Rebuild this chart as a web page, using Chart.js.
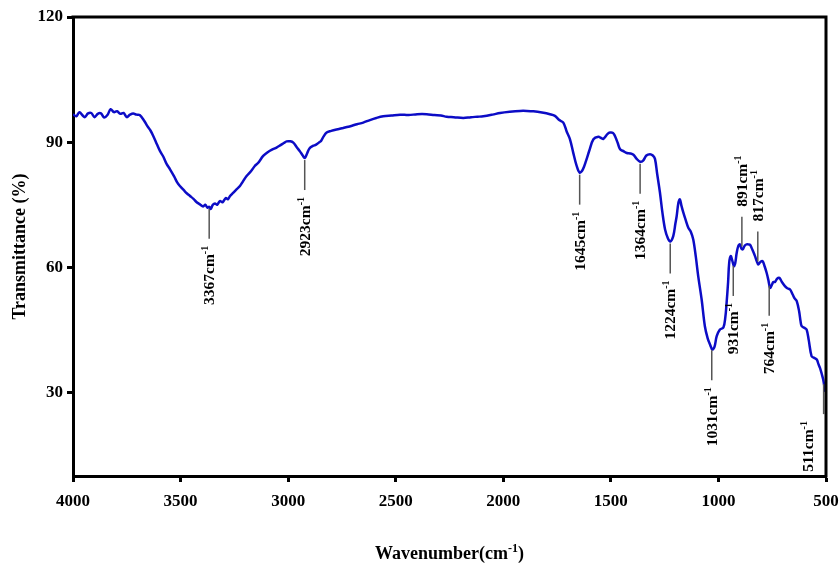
<!DOCTYPE html>
<html>
<head>
<meta charset="utf-8">
<title>FTIR spectrum</title>
<script src="https://cdn.jsdelivr.net/npm/chart.js@4.4.1/dist/chart.umd.min.js"></script>
<style>
    html, body { margin: 0; padding: 0; background: #fff; }
    canvas { display: block; }
</style>
</head>
<body>
<canvas id="ftirChart" width="840" height="567"></canvas>
<script>
// Spectrum (wavenumber in cm-1, transmittance in %)
const wavenumbers = [
    4000, 3985, 3970, 3955, 3945, 3930, 3915, 3900, 3885, 3870, 3855, 3840, 3825, 3810, 3795, 3780,
    3765, 3750, 3735, 3720, 3705, 3690, 3670, 3655, 3640, 3627, 3610, 3596, 3580, 3565, 3549, 3530,
    3515, 3503, 3485, 3470, 3456, 3440, 3425, 3410, 3395, 3385, 3375, 3367, 3360, 3350, 3340, 3330,
    3317, 3305, 3290, 3280, 3270, 3255, 3240, 3224, 3210, 3195, 3172, 3155, 3140, 3116, 3095, 3075,
    3054, 3035, 3020, 3007, 2990, 2976, 2960, 2945, 2932, 2923, 2912, 2901, 2885, 2870, 2855, 2847,
    2835, 2821, 2800, 2780, 2760, 2744, 2720, 2700, 2680, 2651, 2620, 2590, 2558, 2520, 2480, 2440,
    2400, 2356, 2320, 2290, 2263, 2230, 2186, 2150, 2120, 2093, 2050, 2015, 1970, 1922, 1890, 1860,
    1820, 1783, 1760, 1740, 1721, 1705, 1690, 1675, 1660, 1645, 1630, 1615, 1600, 1581, 1558, 1545,
    1535, 1515, 1504, 1490, 1481, 1468, 1457, 1440, 1426, 1410, 1395, 1380, 1364, 1350, 1335, 1318,
    1305, 1295, 1285, 1272, 1260, 1248, 1235, 1224, 1210, 1200, 1194, 1186, 1179, 1172, 1163, 1152,
    1140, 1128, 1117, 1105, 1094, 1078, 1063, 1050, 1039, 1028, 1018, 1008, 993, 977, 968, 962,
    955, 950, 943, 935, 928, 922, 915, 907, 900, 893, 887, 878, 869, 860, 853, 842,
    830, 822, 815, 805, 795, 785, 776, 768, 760, 750, 745, 737, 727, 717, 705, 691,
    680, 667, 655, 645, 636, 625, 618, 613, 600, 590, 580, 567, 555, 543, 535, 528,
    520, 513, 505, 502
];
const transmittance = [
    96.7, 96.2, 97.2, 96.4, 96.0, 96.9, 97.0, 96.0, 96.8, 96.9, 95.9, 96.5, 97.9, 97.2, 97.4, 96.8,
    97.0, 96.0, 96.6, 96.9, 96.6, 96.5, 95.2, 93.9, 92.8, 91.5, 89.5, 87.9, 86.5, 84.8, 83.5, 81.8,
    80.3, 79.5, 78.5, 77.7, 77.1, 76.4, 75.6, 75.1, 74.6, 75.0, 74.3, 74.5, 74.0, 75.0, 75.3, 75.0,
    75.9, 75.6, 76.6, 76.3, 77.1, 77.9, 78.7, 79.5, 80.6, 81.8, 83.1, 84.3, 85.0, 86.7, 87.6, 88.2,
    88.7, 89.3, 89.8, 90.2, 90.2, 89.9, 88.8, 87.8, 86.8, 86.2, 87.3, 88.5, 89.1, 89.4, 90.0, 90.3,
    91.4, 92.3, 92.7, 93.0, 93.2, 93.4, 93.7, 94.0, 94.3, 94.7, 95.3, 95.8, 96.2, 96.4, 96.6, 96.5,
    96.7, 96.7, 96.5, 96.4, 96.1, 96.0, 95.8, 96.0, 96.1, 96.2, 96.6, 97.0, 97.3, 97.5, 97.5, 97.4,
    97.1, 96.7, 96.3, 95.3, 94.7, 92.5, 90.7, 87.5, 84.5, 82.7, 83.5, 85.6, 88.0, 90.7, 91.3, 91.0,
    90.8, 92.0, 92.3, 92.2, 91.5, 89.8, 88.3, 87.8, 87.4, 87.3, 87.0, 86.0, 85.3, 85.6, 86.8, 87.1,
    86.8, 86.0, 82.5, 78.0, 73.0, 69.1, 67.0, 66.2, 67.5, 70.5, 72.3, 75.5, 76.3, 74.8, 73.1, 71.3,
    69.5, 68.5, 66.7, 62.5, 57.9, 52.3, 45.9, 43.0, 41.5, 40.3, 41.0, 43.5, 45.1, 45.6, 48.0, 51.5,
    56.5, 61.1, 62.7, 61.5, 60.3, 61.0, 63.5, 65.2, 65.5, 64.5, 64.3, 65.2, 65.5, 65.5, 65.4, 64.2,
    62.7, 61.5, 60.7, 61.3, 61.5, 60.2, 58.7, 57.0, 55.1, 56.0, 56.5, 56.5, 57.3, 57.5, 56.5, 55.5,
    55.0, 54.7, 53.5, 52.5, 51.9, 49.5, 47.0, 45.9, 45.5, 45.1, 42.5, 38.7, 38.3, 37.9, 36.8, 35.9,
    34.5, 33.1, 30.7, 30.2
];

const xTicks = [4000, 3500, 3000, 2500, 2000, 1500, 1000, 500];
const yTicks = [30, 60, 90, 120];

// Marked bands; the two listed in peaksAbove carry their label above the curve
const peaks = [3367, 2923, 1645, 1364, 1224, 1031, 931, 891, 817, 764, 511];
const peaksAbove = [891, 817];

const SERIF = "'Liberation Serif', 'Times New Roman', serif";

// Linear lookup of the spectrum at a given wavenumber
const valueAt = (w) => {
    for (let i = 0; i < wavenumbers.length - 1; i++) {
        const a = wavenumbers[i], b = wavenumbers[i + 1];
        if (w <= a && w >= b) {
            const t = (a - w) / (a - b);
            return transmittance[i] + t * (transmittance[i + 1] - transmittance[i]);
        }
    }
    return transmittance[transmittance.length - 1];
};

// Top and right sides of the box, plus the x title with its superscript
const framePlugin = {
    id: 'frame',
    afterDraw(chart) {
        const { ctx, chartArea: a } = chart;
        ctx.save();
        ctx.strokeStyle = '#000';
        ctx.lineWidth = 3;
        ctx.beginPath();
        ctx.moveTo(a.left - 1.5, a.top);
        ctx.lineTo(a.right, a.top);
        ctx.lineTo(a.right, a.bottom + 1.5);
        ctx.stroke();

        ctx.fillStyle = '#000';
        ctx.textBaseline = 'alphabetic';
        ctx.font = `bold 18px ${SERIF}`;
        const main = 'Wavenumber(cm';
        const sup = '-1';
        const tail = ')';
        const wMain = ctx.measureText(main).width;
        const wTail = ctx.measureText(tail).width;
        ctx.font = `bold 12px ${SERIF}`;
        const wSup = ctx.measureText(sup).width;
        const total = wMain + wSup + wTail;
        const x0 = (a.left + a.right) / 2 - total / 2;
        const yb = 559;
        ctx.font = `bold 18px ${SERIF}`;
        ctx.fillText(main, x0, yb);
        ctx.fillText(tail, x0 + wMain + wSup, yb);
        ctx.font = `bold 12px ${SERIF}`;
        ctx.fillText(sup, x0 + wMain, yb - 7);
        ctx.restore();
    }
};

// Vertical marker lines with rotated band labels
const peakPlugin = {
    id: 'peakLabels',
    afterDatasetsDraw(chart) {
        const { ctx, chartArea: a, scales: { x, y } } = chart;
        const lineLen = 30, gap = 7;
        ctx.save();
        peaks.forEach(w => {
            const px = x.getPixelForValue(w);
            const py = y.getPixelForValue(valueAt(w));
            const above = peaksAbove.includes(w);

            ctx.strokeStyle = '#555';
            ctx.lineWidth = 1.5;
            ctx.beginPath();
            const y1 = above ? py - 2 : py + 2;
            const y2 = above ? py - 2 - lineLen : py + 2 + lineLen;
            ctx.moveTo(px, y1);
            ctx.lineTo(px, y2);
            ctx.stroke();

            const main = `${w}cm`;
            const sup = '-1';
            ctx.font = `bold 15.5px ${SERIF}`;
            const wMain = ctx.measureText(main).width;
            ctx.font = `bold 10px ${SERIF}`;
            const wSup = ctx.measureText(sup).width;
            const total = wMain + wSup;

            const cx = Math.min(px, a.right - 18);
            const start = above ? y2 - gap - 3 : y2 + gap + total;

            ctx.save();
            ctx.translate(cx + 5, start);
            ctx.rotate(-Math.PI / 2);
            ctx.fillStyle = '#000';
            ctx.textBaseline = 'alphabetic';
            ctx.textAlign = 'left';
            ctx.font = `bold 15.5px ${SERIF}`;
            ctx.fillText(main, 0, 0);
            ctx.font = `bold 10px ${SERIF}`;
            ctx.fillText(sup, wMain, -6);
            ctx.restore();
        });
        ctx.restore();
    }
};

const ctx = document.getElementById('ftirChart').getContext('2d');
new Chart(ctx, {
    type: 'scatter',
    data: {
        datasets: [{
            label: 'Transmittance',
            data: wavenumbers.map((w, i) => ({ x: w, y: transmittance[i] })),
            showLine: true,
            borderColor: '#0c0cc6',
            borderWidth: 2.5,
            pointRadius: 0,
            tension: 0.35,
            fill: false
        }]
    },
    options: {
        responsive: false,
        animation: false,
        layout: { padding: { top: 17, right: 14, left: 0, bottom: 0 } },
        plugins: {
            legend: { display: false },
            tooltip: { enabled: false }
        },
        scales: {
            x: {
                type: 'linear',
                reverse: true,
                min: 500,
                max: 4000,
                afterBuildTicks: scale => { scale.ticks = xTicks.map(v => ({ value: v })); },
                afterFit: scale => {
                    scale.height = 91;
                    scale.paddingLeft = 0;
                    scale.paddingRight = 0;
                },
                grid: { drawOnChartArea: false, tickLength: 6, tickWidth: 3, tickColor: '#000' },
                border: { color: '#000', width: 3 },
                ticks: {
                    color: '#000',
                    padding: 9,
                    maxRotation: 0,
                    callback: v => String(v),
                    font: { family: SERIF, size: 17, weight: 'bold' }
                },
                title: { display: false }
            },
            y: {
                min: 10,
                max: 120,
                afterBuildTicks: scale => { scale.ticks = yTicks.map(v => ({ value: v })); },
                afterFit: scale => {
                    scale.width = 73;
                    scale.paddingTop = 0;
                    scale.paddingBottom = 0;
                },
                grid: { drawOnChartArea: false, tickLength: 6, tickWidth: 3, tickColor: '#000' },
                border: { color: '#000', width: 3 },
                ticks: {
                    color: '#000',
                    padding: 4,
                    font: { family: SERIF, size: 17, weight: 'bold' }
                },
                title: {
                    display: true,
                    text: 'Transmittance (%)',
                    color: '#000',
                    padding: { top: 10, bottom: 0 },
                    font: { family: SERIF, size: 18, weight: 'bold' }
                }
            }
        }
    },
    plugins: [framePlugin, peakPlugin]
});
</script>
</body>
</html>
